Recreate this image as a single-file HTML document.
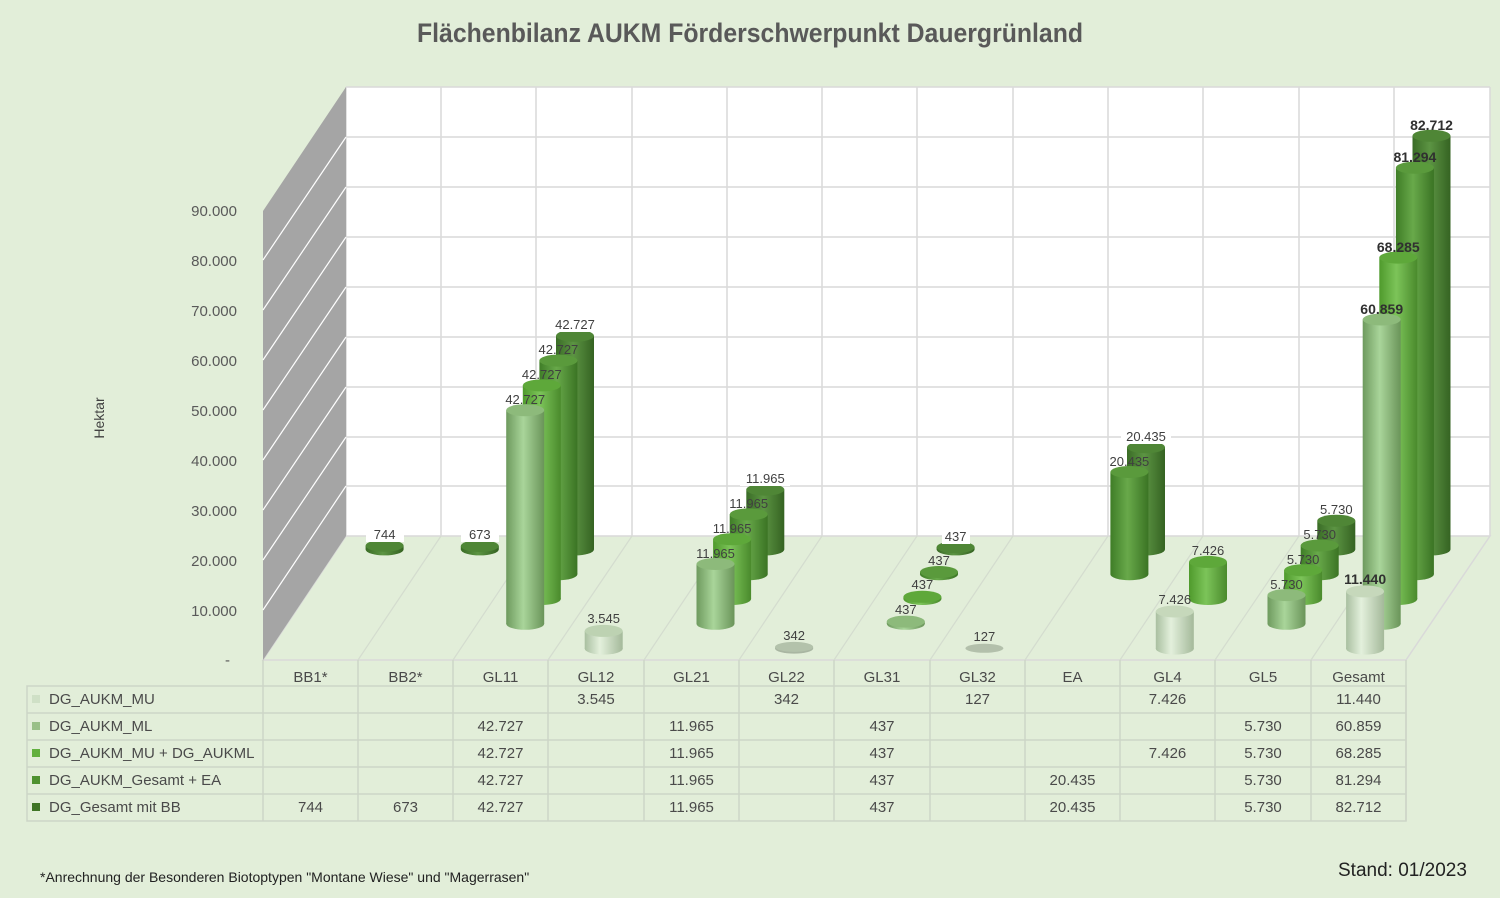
<!DOCTYPE html>
<html><head><meta charset="utf-8"><style>
html,body{margin:0;padding:0;background:#e2eed9;}
svg{display:block;font-family:"Liberation Sans Narrow","Liberation Sans",sans-serif;}
.t{font-family:"Liberation Sans",sans-serif;font-size:15px;fill:#4a4a4a;text-anchor:middle;}
.lb{font-size:13px;fill:#404040;text-anchor:middle;}
.lbb{font-size:14px;fill:#303030;text-anchor:middle;font-weight:bold;}
.yt{font-size:15px;fill:#595959;text-anchor:end;}
</style></head><body>
<svg width="1500" height="898" viewBox="0 0 1500 898" xmlns="http://www.w3.org/2000/svg">
<defs>
<linearGradient id="g0" x1="0" x2="1"><stop offset="0" stop-color="#a9bfa0"/><stop offset="0.4" stop-color="#e3f0dc"/><stop offset="1" stop-color="#a4b99a"/></linearGradient>
<linearGradient id="g1" x1="0" x2="1"><stop offset="0" stop-color="#6e9a5e"/><stop offset="0.45" stop-color="#a9d59a"/><stop offset="1" stop-color="#6a9459"/></linearGradient>
<linearGradient id="g2" x1="0" x2="1"><stop offset="0" stop-color="#4f9a2c"/><stop offset="0.45" stop-color="#7cc459"/><stop offset="1" stop-color="#4a8a2c"/></linearGradient>
<linearGradient id="g3" x1="0" x2="1"><stop offset="0" stop-color="#3f7d27"/><stop offset="0.45" stop-color="#68a94a"/><stop offset="1" stop-color="#3b7424"/></linearGradient>
<linearGradient id="g4" x1="0" x2="1"><stop offset="0" stop-color="#3a6c26"/><stop offset="0.45" stop-color="#5c9443"/><stop offset="1" stop-color="#356322"/></linearGradient>
</defs>
<rect width="1500" height="898" fill="#e2eed9"/>
<text x="750" y="42" text-anchor="middle" font-size="27" font-weight="bold" fill="#595959" textLength="666" lengthAdjust="spacingAndGlyphs">Flächenbilanz AUKM Förderschwerpunkt Dauergrünland</text>

<!-- back wall -->
<rect x="346" y="87" width="1144" height="449" fill="#ffffff"/>
<g stroke="#d9d9d9" stroke-width="1.5">
<line x1="346" y1="87" x2="1490" y2="87"/><line x1="346" y1="137" x2="1490" y2="137"/><line x1="346" y1="187" x2="1490" y2="187"/><line x1="346" y1="237" x2="1490" y2="237"/><line x1="346" y1="287" x2="1490" y2="287"/><line x1="346" y1="337" x2="1490" y2="337"/><line x1="346" y1="387" x2="1490" y2="387"/><line x1="346" y1="437" x2="1490" y2="437"/><line x1="346" y1="486" x2="1490" y2="486"/>
<line x1="346" y1="87" x2="346" y2="536"/><line x1="441" y1="87" x2="441" y2="536"/><line x1="536" y1="87" x2="536" y2="536"/><line x1="632" y1="87" x2="632" y2="536"/><line x1="727" y1="87" x2="727" y2="536"/><line x1="822" y1="87" x2="822" y2="536"/><line x1="917" y1="87" x2="917" y2="536"/><line x1="1013" y1="87" x2="1013" y2="536"/><line x1="1108" y1="87" x2="1108" y2="536"/><line x1="1203" y1="87" x2="1203" y2="536"/><line x1="1299" y1="87" x2="1299" y2="536"/><line x1="1394" y1="87" x2="1394" y2="536"/><line x1="1490" y1="87" x2="1490" y2="536"/>
</g>
<!-- floor -->
<polygon points="263,660 1406,660 1490,536 346,536" fill="#e2eed9" stroke="#d9d9d9" stroke-width="1.5"/>
<g stroke="#d4dccf" stroke-width="1.2">
<line x1="358" y1="660" x2="441" y2="536"/><line x1="453" y1="660" x2="536" y2="536"/><line x1="548" y1="660" x2="632" y2="536"/><line x1="644" y1="660" x2="727" y2="536"/><line x1="739" y1="660" x2="822" y2="536"/><line x1="834" y1="660" x2="917" y2="536"/><line x1="930" y1="660" x2="1013" y2="536"/><line x1="1025" y1="660" x2="1108" y2="536"/><line x1="1120" y1="660" x2="1203" y2="536"/><line x1="1215" y1="660" x2="1299" y2="536"/><line x1="1311" y1="660" x2="1394" y2="536"/>
</g>
<!-- side wall -->
<polygon points="263,660 263,211 346,87 346,536" fill="#a5a5a5"/>
<g stroke="#ffffff" stroke-width="1.2">
<line x1="263" y1="610" x2="346" y2="486"/><line x1="263" y1="560" x2="346" y2="437"/><line x1="263" y1="510" x2="346" y2="387"/><line x1="263" y1="460" x2="346" y2="337"/><line x1="263" y1="410" x2="346" y2="287"/><line x1="263" y1="360" x2="346" y2="237"/><line x1="263" y1="310" x2="346" y2="187"/><line x1="263" y1="260" x2="346" y2="137"/>
</g>
<!-- y ticks -->
<text class="yt" x="237" y="216">90.000</text>
<text class="yt" x="237" y="266">80.000</text>
<text class="yt" x="237" y="316">70.000</text>
<text class="yt" x="237" y="366">60.000</text>
<text class="yt" x="237" y="416">50.000</text>
<text class="yt" x="237" y="466">40.000</text>
<text class="yt" x="237" y="516">30.000</text>
<text class="yt" x="237" y="566">20.000</text>
<text class="yt" x="237" y="616">10.000</text>
<text class="yt" x="230" y="665">-</text>
<text x="104" y="418" transform="rotate(-90 104 418)" text-anchor="middle" font-size="14" fill="#404040" font-family="Liberation Sans, sans-serif">Hektar</text>

<!-- series 4 (BB) -->
<g>
<rect x="365.6" y="545.7" width="38" height="3.7" fill="url(#g4)"/><ellipse cx="384.6" cy="549.4" rx="19" ry="6" fill="url(#g4)"/><ellipse cx="384.6" cy="545.7" rx="19" ry="6" fill="#4f8636"/>
<rect x="460.8" y="546" width="38" height="3.4" fill="url(#g4)"/><ellipse cx="479.8" cy="549.4" rx="19" ry="6" fill="url(#g4)"/><ellipse cx="479.8" cy="546" rx="19" ry="6" fill="#4f8636"/>
<rect x="556" y="335.8" width="38" height="213.6" fill="url(#g4)"/><ellipse cx="575" cy="549.4" rx="19" ry="6" fill="url(#g4)"/><ellipse cx="575" cy="335.8" rx="19" ry="6" fill="#4f8636"/>
<rect x="746.3" y="489.6" width="38" height="59.8" fill="url(#g4)"/><ellipse cx="765.3" cy="549.4" rx="19" ry="6" fill="url(#g4)"/><ellipse cx="765.3" cy="489.6" rx="19" ry="6" fill="#4f8636"/>
<rect x="936.6" y="547.2" width="38" height="2.2" fill="url(#g4)"/><ellipse cx="955.6" cy="549.4" rx="19" ry="6" fill="url(#g4)"/><ellipse cx="955.6" cy="547.2" rx="19" ry="6" fill="#4f8636"/>
<rect x="1127" y="447.2" width="38" height="102.2" fill="url(#g4)"/><ellipse cx="1146" cy="549.4" rx="19" ry="6" fill="url(#g4)"/><ellipse cx="1146" cy="447.2" rx="19" ry="6" fill="#4f8636"/>
<rect x="1317.3" y="520.7" width="38" height="28.7" fill="url(#g4)"/><ellipse cx="1336.3" cy="549.4" rx="19" ry="6" fill="url(#g4)"/><ellipse cx="1336.3" cy="520.7" rx="19" ry="6" fill="#4f8636"/>
<rect x="1412.5" y="135.8" width="38" height="413.6" fill="url(#g4)"/><ellipse cx="1431.5" cy="549.4" rx="19" ry="6" fill="url(#g4)"/><ellipse cx="1431.5" cy="135.8" rx="19" ry="6" fill="#4f8636"/>
</g>
<g>
<rect x="366" y="527" width="38" height="15" fill="#fff"/><text class="lb" x="384.6" y="539">744</text>
<rect x="461" y="527" width="38" height="15" fill="#fff"/><text class="lb" x="479.8" y="539">673</text>
<rect x="550" y="317" width="50" height="15" fill="#fff"/><text class="lb" x="575" y="329">42.727</text>
<rect x="740" y="471" width="50" height="15" fill="#fff"/><text class="lb" x="765.3" y="483">11.965</text>
<rect x="942" y="529" width="28" height="15" fill="#fff"/><text class="lb" x="955.6" y="541">437</text>
<rect x="1121" y="429" width="50" height="15" fill="#fff"/><text class="lb" x="1146" y="441">20.435</text>
<text class="lb" x="1336.3" y="514">5.730</text>
<text class="lbb" x="1431.5" y="130">82.712</text>
</g>
<!-- series 3 -->
<g>
<rect x="539.4" y="360.6" width="38" height="213.6" fill="url(#g3)"/><ellipse cx="558.4" cy="574.2" rx="19" ry="6" fill="url(#g3)"/><ellipse cx="558.4" cy="360.6" rx="19" ry="6" fill="#5a9a3c"/>
<rect x="729.7" y="514.4" width="38" height="59.8" fill="url(#g3)"/><ellipse cx="748.7" cy="574.2" rx="19" ry="6" fill="url(#g3)"/><ellipse cx="748.7" cy="514.4" rx="19" ry="6" fill="#5a9a3c"/>
<rect x="920" y="572" width="38" height="2.2" fill="url(#g3)"/><ellipse cx="939" cy="574.2" rx="19" ry="6" fill="url(#g3)"/><ellipse cx="939" cy="572" rx="19" ry="6" fill="#5a9a3c"/>
<rect x="1110.4" y="472" width="38" height="102.2" fill="url(#g3)"/><ellipse cx="1129.4" cy="574.2" rx="19" ry="6" fill="url(#g3)"/><ellipse cx="1129.4" cy="472" rx="19" ry="6" fill="#5a9a3c"/>
<rect x="1300.7" y="545.5" width="38" height="28.7" fill="url(#g3)"/><ellipse cx="1319.7" cy="574.2" rx="19" ry="6" fill="url(#g3)"/><ellipse cx="1319.7" cy="545.5" rx="19" ry="6" fill="#5a9a3c"/>
<rect x="1395.9" y="167.7" width="38" height="406.5" fill="url(#g3)"/><ellipse cx="1414.9" cy="574.2" rx="19" ry="6" fill="url(#g3)"/><ellipse cx="1414.9" cy="167.7" rx="19" ry="6" fill="#5a9a3c"/>
<text class="lb" x="558.4" y="354">42.727</text>
<text class="lb" x="748.7" y="508">11.965</text>
<text class="lb" x="939" y="565">437</text>
<text class="lb" x="1129.4" y="466">20.435</text>
<text class="lb" x="1319.7" y="539">5.730</text>
<text class="lbb" x="1414.9" y="162">81.294</text>
</g>
<!-- series 2 -->
<g>
<rect x="522.8" y="385.4" width="38" height="213.6" fill="url(#g2)"/><ellipse cx="541.8" cy="599" rx="19" ry="6" fill="url(#g2)"/><ellipse cx="541.8" cy="385.4" rx="19" ry="6" fill="#5ea83a"/>
<rect x="713.1" y="539.2" width="38" height="59.8" fill="url(#g2)"/><ellipse cx="732.1" cy="599" rx="19" ry="6" fill="url(#g2)"/><ellipse cx="732.1" cy="539.2" rx="19" ry="6" fill="#5ea83a"/>
<rect x="903.4" y="596.8" width="38" height="2.2" fill="url(#g2)"/><ellipse cx="922.4" cy="599" rx="19" ry="6" fill="url(#g2)"/><ellipse cx="922.4" cy="596.8" rx="19" ry="6" fill="#5ea83a"/>
<rect x="1189" y="561.9" width="38" height="37.1" fill="url(#g2)"/><ellipse cx="1208" cy="599" rx="19" ry="6" fill="url(#g2)"/><ellipse cx="1208" cy="561.9" rx="19" ry="6" fill="#5ea83a"/>
<rect x="1284.1" y="570.3" width="38" height="28.7" fill="url(#g2)"/><ellipse cx="1303.1" cy="599" rx="19" ry="6" fill="url(#g2)"/><ellipse cx="1303.1" cy="570.3" rx="19" ry="6" fill="#5ea83a"/>
<rect x="1379.3" y="257.6" width="38" height="341.4" fill="url(#g2)"/><ellipse cx="1398.3" cy="599" rx="19" ry="6" fill="url(#g2)"/><ellipse cx="1398.3" cy="257.6" rx="19" ry="6" fill="#5ea83a"/>
<text class="lb" x="541.8" y="379">42.727</text>
<text class="lb" x="732.1" y="533">11.965</text>
<text class="lb" x="922.4" y="589">437</text>
<text class="lb" x="1208" y="555">7.426</text>
<text class="lb" x="1303.1" y="564">5.730</text>
<text class="lbb" x="1398.3" y="252">68.285</text>
</g>
<!-- series 1 -->
<g>
<rect x="506.2" y="410.2" width="38" height="213.6" fill="url(#g1)"/><ellipse cx="525.2" cy="623.8" rx="19" ry="6" fill="url(#g1)"/><ellipse cx="525.2" cy="410.2" rx="19" ry="6" fill="#8dba7b"/>
<rect x="696.5" y="564" width="38" height="59.8" fill="url(#g1)"/><ellipse cx="715.5" cy="623.8" rx="19" ry="6" fill="url(#g1)"/><ellipse cx="715.5" cy="564" rx="19" ry="6" fill="#8dba7b"/>
<rect x="886.8" y="621.6" width="38" height="2.2" fill="url(#g1)"/><ellipse cx="905.8" cy="623.8" rx="19" ry="6" fill="url(#g1)"/><ellipse cx="905.8" cy="621.6" rx="19" ry="6" fill="#8dba7b"/>
<rect x="1267.5" y="595.1" width="38" height="28.7" fill="url(#g1)"/><ellipse cx="1286.5" cy="623.8" rx="19" ry="6" fill="url(#g1)"/><ellipse cx="1286.5" cy="595.1" rx="19" ry="6" fill="#8dba7b"/>
<rect x="1362.7" y="319.5" width="38" height="304.3" fill="url(#g1)"/><ellipse cx="1381.7" cy="623.8" rx="19" ry="6" fill="url(#g1)"/><ellipse cx="1381.7" cy="319.5" rx="19" ry="6" fill="#8dba7b"/>
<text class="lb" x="525.2" y="404">42.727</text>
<text class="lb" x="715.5" y="558">11.965</text>
<text class="lb" x="905.8" y="614">437</text>
<text class="lb" x="1286.5" y="589">5.730</text>
<text class="lbb" x="1381.7" y="314">60.859</text>
</g>
<!-- series 0 -->
<g>
<rect x="584.7" y="630.9" width="38" height="17.7" fill="url(#g0)"/><ellipse cx="603.7" cy="648.6" rx="19" ry="6" fill="url(#g0)"/><ellipse cx="603.7" cy="630.9" rx="19" ry="6" fill="#bdd2b2"/>
<rect x="775.1" y="646.9" width="38" height="1.7" fill="url(#g0)"/><ellipse cx="794.1" cy="648.6" rx="19" ry="5" fill="#a9b6a2"/><ellipse cx="794.1" cy="646.9" rx="19" ry="5" fill="#b3c2ab"/>
<ellipse cx="984.4" cy="648.3" rx="19" ry="4.5" fill="#b3c0ab"/>
<rect x="1155.8" y="611.5" width="38" height="37.1" fill="url(#g0)"/><ellipse cx="1174.8" cy="648.6" rx="19" ry="6" fill="url(#g0)"/><ellipse cx="1174.8" cy="611.5" rx="19" ry="6" fill="#c6d8bb"/>
<rect x="1346.1" y="591.4" width="38" height="57.2" fill="url(#g0)"/><ellipse cx="1365.1" cy="648.6" rx="19" ry="6" fill="url(#g0)"/><ellipse cx="1365.1" cy="591.4" rx="19" ry="6" fill="#c6d8bb"/>
<text class="lb" x="603.7" y="623">3.545</text>
<text class="lb" x="794.1" y="640">342</text>
<text class="lb" x="984.4" y="641">127</text>
<text class="lb" x="1174.8" y="604">7.426</text>
<text class="lbb" x="1365.1" y="584">11.440</text>
</g>

<!-- table -->
<g stroke="#cdd5c7" stroke-width="1.5" fill="none">
<rect x="27" y="686" width="1379" height="135"/>
<line x1="27" y1="713" x2="1406" y2="713"/><line x1="27" y1="740" x2="1406" y2="740"/><line x1="27" y1="767" x2="1406" y2="767"/><line x1="27" y1="794" x2="1406" y2="794"/>
<line x1="263" y1="660" x2="263" y2="821"/><line x1="358" y1="660" x2="358" y2="821"/><line x1="453" y1="660" x2="453" y2="821"/><line x1="548" y1="660" x2="548" y2="821"/><line x1="644" y1="660" x2="644" y2="821"/><line x1="739" y1="660" x2="739" y2="821"/><line x1="834" y1="660" x2="834" y2="821"/><line x1="930" y1="660" x2="930" y2="821"/><line x1="1025" y1="660" x2="1025" y2="821"/><line x1="1120" y1="660" x2="1120" y2="821"/><line x1="1215" y1="660" x2="1215" y2="821"/><line x1="1311" y1="660" x2="1311" y2="821"/><line x1="1406" y1="660" x2="1406" y2="821"/>
</g>
<g class="t">
<text class="t" x="310.5" y="682">BB1*</text><text class="t" x="405.5" y="682">BB2*</text><text class="t" x="500.5" y="682">GL11</text><text class="t" x="596" y="682">GL12</text><text class="t" x="691.5" y="682">GL21</text><text class="t" x="786.5" y="682">GL22</text><text class="t" x="882" y="682">GL31</text><text class="t" x="977.5" y="682">GL32</text><text class="t" x="1072.5" y="682">EA</text><text class="t" x="1167.5" y="682">GL4</text><text class="t" x="1263" y="682">GL5</text><text class="t" x="1358.5" y="682">Gesamt</text>
</g>
<rect x="32" y="695" width="8" height="8" fill="#cfe0c6"/>
<rect x="32" y="722" width="8" height="8" fill="#99c088"/>
<rect x="32" y="749" width="8" height="8" fill="#62b03e"/>
<rect x="32" y="776" width="8" height="8" fill="#4f9230"/>
<rect x="32" y="803" width="8" height="8" fill="#3f7526"/>
<g font-family="Liberation Sans, sans-serif" font-size="15" fill="#4a4a4a">
<text x="49" y="704">DG_AUKM_MU</text>
<text x="49" y="731">DG_AUKM_ML</text>
<text x="49" y="758">DG_AUKM_MU + DG_AUKML</text>
<text x="49" y="785">DG_AUKM_Gesamt + EA</text>
<text x="49" y="812">DG_Gesamt mit BB</text>
</g>
<text class="t" x="596" y="704">3.545</text><text class="t" x="786.5" y="704">342</text><text class="t" x="977.5" y="704">127</text><text class="t" x="1167.5" y="704">7.426</text><text class="t" x="1358.5" y="704">11.440</text>
<text class="t" x="500.5" y="731">42.727</text><text class="t" x="691.5" y="731">11.965</text><text class="t" x="882" y="731">437</text><text class="t" x="1263" y="731">5.730</text><text class="t" x="1358.5" y="731">60.859</text>
<text class="t" x="500.5" y="758">42.727</text><text class="t" x="691.5" y="758">11.965</text><text class="t" x="882" y="758">437</text><text class="t" x="1167.5" y="758">7.426</text><text class="t" x="1263" y="758">5.730</text><text class="t" x="1358.5" y="758">68.285</text>
<text class="t" x="500.5" y="785">42.727</text><text class="t" x="691.5" y="785">11.965</text><text class="t" x="882" y="785">437</text><text class="t" x="1072.5" y="785">20.435</text><text class="t" x="1263" y="785">5.730</text><text class="t" x="1358.5" y="785">81.294</text>
<text class="t" x="310.5" y="812">744</text><text class="t" x="405.5" y="812">673</text><text class="t" x="500.5" y="812">42.727</text><text class="t" x="691.5" y="812">11.965</text><text class="t" x="882" y="812">437</text><text class="t" x="1072.5" y="812">20.435</text><text class="t" x="1263" y="812">5.730</text><text class="t" x="1358.5" y="812">82.712</text>

<text x="40" y="882" font-family="Liberation Sans, sans-serif" font-size="14" fill="#222">*Anrechnung der Besonderen Biotoptypen "Montane Wiese" und "Magerrasen"</text>
<text x="1338" y="876" font-family="Liberation Sans, sans-serif" font-size="19" fill="#222">Stand: 01/2023</text>
</svg>
</body></html>
